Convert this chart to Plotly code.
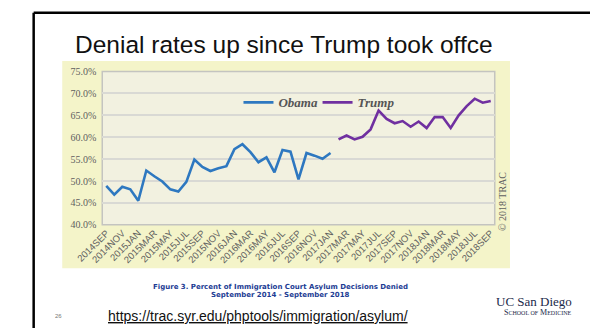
import plotly.graph_objects as go

# Monthly categories, September 2014 through September 2018
months = [
    "2014SEP", "2014OCT", "2014NOV", "2014DEC",
    "2015JAN", "2015FEB", "2015MAR", "2015APR", "2015MAY", "2015JUN",
    "2015JUL", "2015AUG", "2015SEP", "2015OCT", "2015NOV", "2015DEC",
    "2016JAN", "2016FEB", "2016MAR", "2016APR", "2016MAY", "2016JUN",
    "2016JUL", "2016AUG", "2016SEP", "2016OCT", "2016NOV", "2016DEC",
    "2017JAN", "2017FEB", "2017MAR", "2017APR", "2017MAY", "2017JUN",
    "2017JUL", "2017AUG", "2017SEP", "2017OCT", "2017NOV", "2017DEC",
    "2018JAN", "2018FEB", "2018MAR", "2018APR", "2018MAY", "2018JUN",
    "2018JUL", "2018AUG", "2018SEP",
]

# Denial rate (%) by month under each administration
obama_months = months[:29]
obama_rates = [
    48.9, 46.9, 48.7, 48.1, 45.5, 52.4, 51.1, 49.9, 48.1, 47.6,
    49.8, 54.9, 53.2, 52.3, 52.9, 53.4, 57.3, 58.4, 56.6, 54.3,
    55.4, 52.0, 57.1, 56.7, 50.4, 56.4, 55.8, 55.1, 56.4,
]
trump_months = months[29:]
trump_rates = [
    59.5, 60.4, 59.5, 60.1, 61.8, 66.1, 64.2, 63.2, 63.7, 62.4,
    63.6, 62.1, 64.6, 64.6, 62.1, 65.0, 67.1, 68.8, 67.9, 68.3,
]

# Every other month is labelled on the x axis
x_tick_labels = months[::2]
y_ticks = [40, 45, 50, 55, 60, 65, 70, 75]

W, H = 591, 334


def px(x):
    return x / W


def py(y):
    return 1 - y / H


OUTER_BG = "#f4f4c9"
INNER_BG = "#f2f1e0"
GRID = "#d9d9d4"
LABEL_GREY = "#606060"
LEGEND_FONT = dict(family="Liberation Serif, Times New Roman", size=13,
                   color="#555555", weight="bold", style="italic")

fig = go.Figure()
fig.add_trace(go.Scatter(
    x=obama_months, y=obama_rates, mode="lines", name="Obama",
    line=dict(color="#2e78c0", width=2.6), legend="legend",
))
fig.add_trace(go.Scatter(
    x=trump_months, y=trump_rates, mode="lines", name="Trump",
    line=dict(color="#7030a0", width=2.6), legend="legend2",
))

plot_x0, plot_x1 = 79, 491
plot_y0, plot_y1 = 68, 227

shapes = [
    # slide frame: top and left rules
    dict(type="line", xref="paper", yref="paper", x0=px(7), x1=1.0,
         y0=py(7), y1=py(7), line=dict(color="black", width=2.5)),
    dict(type="line", xref="paper", yref="paper", x0=px(7), x1=px(7),
         y0=0, y1=py(7), line=dict(color="black", width=2.5)),
    # chart area
    dict(type="rect", xref="paper", yref="paper", layer="below",
         x0=px(37), x1=px(507), y0=py(272), y1=py(57),
         fillcolor=OUTER_BG, line=dict(width=0)),
    # plot area
    dict(type="rect", xref="paper", yref="paper", layer="below",
         x0=px(plot_x0), x1=px(plot_x1), y0=py(plot_y1), y1=py(plot_y0),
         fillcolor=INNER_BG, line=dict(color="#c4c4c0", width=1.5)),
]

annotations = [
    dict(text="Denial rates up since Trump took offce", xref="paper", yref="paper",
         x=px(270), y=py(40), showarrow=False, xanchor="center", yanchor="middle",
         font=dict(family="Liberation Sans, Arial", size=24.5, color="#111111")),
    dict(text="© 2018 TRAC", xref="paper", yref="paper", x=px(499), y=py(203),
         showarrow=False, textangle=-90, xanchor="center", yanchor="middle",
         font=dict(family="Liberation Serif, Times New Roman", size=10, color=LABEL_GREY)),
    dict(text="<b>Figure 3. Percent of Immigration Court Asylum Decisions Denied</b>",
         xref="paper", yref="paper", x=px(266), y=py(291), showarrow=False,
         xanchor="center", yanchor="middle",
         font=dict(family="DejaVu Sans", size=7, color="#1c3c94")),
    dict(text="<b>September 2014 - September 2018</b>",
         xref="paper", yref="paper", x=px(266), y=py(300), showarrow=False,
         xanchor="center", yanchor="middle",
         font=dict(family="DejaVu Sans", size=7, color="#1c3c94")),
    dict(text="<u>https://trac.syr.edu/phptools/immigration/asylum/</u>",
         xref="paper", yref="paper", x=px(242), y=py(322), showarrow=False,
         xanchor="center", yanchor="middle",
         font=dict(family="Liberation Sans, Arial", size=14, color="#111111")),
    dict(text="26", xref="paper", yref="paper", x=px(33), y=py(322), showarrow=False,
         xanchor="center", yanchor="middle",
         font=dict(family="Liberation Sans, Arial", size=6, color="#777777")),
    dict(text="UC San Diego", xref="paper", yref="paper", x=px(574), y=py(306),
         showarrow=False, xanchor="right", yanchor="middle",
         font=dict(family="Liberation Serif, Times New Roman", size=13, color="#1b2a4a")),
    dict(text="S<span style='font-size:6px'>CHOOL OF</span> M<span style='font-size:6px'>EDICINE</span>",
         xref="paper", yref="paper", x=px(574), y=py(318),
         showarrow=False, xanchor="right", yanchor="middle",
         font=dict(family="Liberation Serif, Times New Roman", size=8, color="#1b2a4a")),
]

fig.update_layout(
    width=W, height=H,
    margin=dict(l=0, r=0, t=0, b=0),
    paper_bgcolor="white",
    plot_bgcolor="rgba(0,0,0,0)",
    shapes=shapes,
    annotations=annotations,
    showlegend=True,
    legend=dict(
        orientation="h", x=px(222), y=py(100), xanchor="left", yanchor="middle",
        bgcolor="rgba(0,0,0,0)", itemwidth=30, font=LEGEND_FONT,
    ),
    legend2=dict(
        orientation="h", x=px(305), y=py(100), xanchor="left", yanchor="middle",
        bgcolor="rgba(0,0,0,0)", itemwidth=30, font=LEGEND_FONT,
    ),
    xaxis=dict(
        domain=[px(plot_x0), px(plot_x1)],
        type="category", categoryorder="array", categoryarray=months,
        range=[-0.5, len(months) - 0.5],
        tickmode="array", tickvals=x_tick_labels, ticktext=x_tick_labels,
        tickangle=-45, showgrid=False, zeroline=False, showline=False,
        ticks="", tickfont=dict(family="Liberation Sans, Arial", size=9.5, color=LABEL_GREY),
    ),
    yaxis=dict(
        domain=[py(plot_y1), py(plot_y0)],
        range=[40, 75], tickmode="array", tickvals=y_ticks,
        ticktext=[f"{v:.1f}%" for v in y_ticks],
        showgrid=True, gridcolor=GRID, gridwidth=1.5, zeroline=False,
        showline=False, ticks="", ticklabelstandoff=5,
        tickfont=dict(family="Liberation Serif, Times New Roman", size=10, color=LABEL_GREY),
    ),
)

fig.write_html("out.html")
